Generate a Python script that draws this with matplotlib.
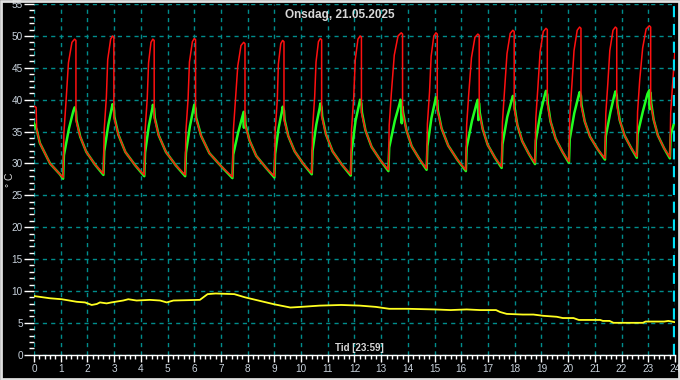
import matplotlib
matplotlib.use("Agg")
import matplotlib.pyplot as plt
from matplotlib.ticker import MultipleLocator
from matplotlib.patches import Rectangle

plt.rcParams['font.family'] = ['Liberation Sans', 'DejaVu Sans']

# --- data (hours, deg C) ---
red_t = [0.00, 0.08, 0.10, 0.22, 0.60, 0.97,
         1.09, 1.12, 1.20, 1.29, 1.42, 1.52, 1.57, 1.57, 1.73, 1.96, 2.29,
         2.60, 2.63, 2.71, 2.76, 2.87, 2.94, 2.99, 2.99, 3.16, 3.42, 3.79,
         4.13, 4.16, 4.24, 4.29, 4.38, 4.45, 4.50, 4.50, 4.67, 4.94, 5.31,
         5.66, 5.69, 5.77, 5.82, 5.93, 6.00, 6.05, 6.05, 6.26, 6.57, 7.02,
         7.43, 7.46, 7.54, 7.63, 7.75, 7.85, 7.90, 7.90, 8.07, 8.32, 8.67,
         9.00, 9.03, 9.11, 9.15, 9.24, 9.31, 9.36, 9.36, 9.52, 9.76, 10.09,
         10.40, 10.43, 10.51, 10.56, 10.65, 10.72, 10.77, 10.77, 10.93, 11.18, 11.53,
         11.86, 11.89, 11.97, 12.03, 12.13, 12.21, 12.26, 12.26, 12.41, 12.64, 12.97,
         13.27, 13.30, 13.38, 13.49, 13.63, 13.75, 13.80, 13.80, 13.94, 14.14, 14.43,
         14.70, 14.73, 14.81, 14.87, 14.97, 15.05, 15.10, 15.10, 15.26, 15.51, 15.85,
         16.17, 16.20, 16.28, 16.38, 16.51, 16.62, 16.67, 16.67, 16.80, 16.99, 17.26,
         17.51, 17.54, 17.62, 17.71, 17.83, 17.93, 17.98, 17.98, 18.10, 18.28, 18.53,
         18.76, 18.79, 18.87, 18.95, 19.07, 19.17, 19.22, 19.22, 19.34, 19.53, 19.79,
         20.03, 20.06, 20.14, 20.22, 20.34, 20.43, 20.48, 20.48, 20.62, 20.82, 21.11,
         21.38, 21.41, 21.49, 21.56, 21.68, 21.77, 21.82, 21.82, 21.93, 22.11, 22.35,
         22.57, 22.60, 22.68, 22.79, 22.92, 23.04, 23.09, 23.09, 23.20, 23.36, 23.59,
         23.81, 23.84, 23.92, 24.00]
red_v = [39.0, 38.8, 35.3, 33.2, 30.0, 28.3,
         27.8, 34.8, 39.8, 45.8, 49.0, 49.5, 49.3, 36.8, 34.2, 31.8, 29.8,
         28.4, 35.4, 40.4, 46.3, 49.5, 50.0, 49.8, 37.3, 34.5, 31.8, 29.7,
         28.2, 35.2, 40.2, 45.8, 49.0, 49.5, 49.3, 37.2, 34.4, 31.8, 29.7,
         28.2, 35.2, 40.2, 45.9, 49.1, 49.6, 49.4, 37.2, 34.3, 31.6, 29.5,
         27.9, 34.9, 39.9, 45.3, 48.5, 49.0, 48.8, 36.1, 33.6, 31.2, 29.4,
         28.0, 35.0, 40.0, 45.6, 48.8, 49.3, 49.1, 36.9, 34.3, 31.9, 29.9,
         28.5, 35.5, 40.5, 45.9, 49.1, 49.6, 49.4, 37.4, 34.6, 31.9, 29.8,
         28.3, 35.3, 40.3, 46.3, 49.5, 50.0, 49.8, 38.0, 35.2, 32.6, 30.5,
         29.0, 36.0, 41.0, 47.0, 50.0, 50.5, 50.3, 38.0, 35.3, 32.7, 30.7,
         29.2, 36.2, 41.2, 46.8, 50.0, 50.5, 50.3, 38.4, 35.5, 32.8, 30.6,
         29.0, 36.0, 41.0, 46.6, 49.8, 50.3, 50.1, 38.0, 35.4, 32.9, 30.9,
         29.5, 36.5, 41.5, 47.2, 50.4, 50.9, 50.7, 38.6, 36.0, 33.5, 31.5,
         30.1, 37.1, 42.1, 47.5, 50.7, 51.2, 51.0, 39.4, 36.6, 33.9, 31.8,
         30.3, 37.3, 42.3, 47.7, 50.9, 51.4, 51.2, 39.2, 36.6, 34.2, 32.2,
         30.8, 37.8, 42.8, 47.7, 50.9, 51.4, 51.2, 39.3, 36.8, 34.4, 32.5,
         31.1, 38.1, 43.1, 48.1, 51.1, 51.6, 51.4, 39.5, 36.9, 34.4, 32.4,
         31.0, 38.0, 43.0, 47.8]

green_t = [0.00, 0.10, 0.22, 0.60, 0.97,
           1.09, 1.12, 1.31, 1.47, 1.52, 1.57, 1.59, 1.73, 1.96, 2.29,
           2.60, 2.63, 2.78, 2.91, 2.94, 2.99, 3.01, 3.16, 3.42, 3.79,
           4.13, 4.16, 4.30, 4.43, 4.45, 4.50, 4.52, 4.67, 4.94, 5.31,
           5.66, 5.69, 5.84, 5.97, 6.00, 6.05, 6.07, 6.26, 6.57, 7.02,
           7.43, 7.46, 7.64, 7.81, 7.85, 7.86, 7.87, 7.90, 7.92, 8.07, 8.32, 8.67,
           9.00, 9.03, 9.16, 9.29, 9.31, 9.36, 9.38, 9.52, 9.76, 10.09,
           10.40, 10.43, 10.57, 10.70, 10.72, 10.77, 10.79, 10.93, 11.18, 11.53,
           11.86, 11.89, 12.04, 12.18, 12.21, 12.26, 12.28, 12.41, 12.64, 12.97,
           13.27, 13.30, 13.51, 13.69, 13.72, 13.76, 13.77, 13.78, 13.80, 13.82, 13.94, 14.14, 14.43,
           14.70, 14.73, 14.88, 15.02, 15.05, 15.10, 15.12, 15.26, 15.51, 15.85,
           16.17, 16.20, 16.40, 16.57, 16.62, 16.64, 16.65, 16.67, 16.69, 16.80, 16.99, 17.26,
           17.51, 17.54, 17.72, 17.89, 17.93, 17.98, 18.00, 18.10, 18.28, 18.53,
           18.76, 18.79, 18.97, 19.13, 19.17, 19.22, 19.24, 19.34, 19.53, 19.79,
           20.03, 20.06, 20.23, 20.39, 20.43, 20.48, 20.50, 20.62, 20.82, 21.11,
           21.38, 21.41, 21.58, 21.73, 21.77, 21.82, 21.84, 21.93, 22.11, 22.35,
           22.57, 22.60, 22.80, 22.97, 23.04, 23.06, 23.07, 23.09, 23.11, 23.20, 23.36, 23.59,
           23.81, 23.84, 24.00]
green_v = [36.3, 35.3, 33.2, 30.0, 28.3,
           27.6, 31.3, 35.5, 38.2, 38.8, 38.2, 36.8, 34.2, 31.8, 29.8,
           28.2, 31.9, 36.0, 38.7, 39.3, 38.7, 37.3, 34.5, 31.8, 29.7,
           28.0, 31.7, 35.9, 38.6, 39.2, 38.6, 37.2, 34.4, 31.8, 29.7,
           28.0, 31.7, 35.9, 38.6, 39.2, 38.6, 37.2, 34.3, 31.6, 29.5,
           27.7, 31.4, 34.8, 37.5, 38.1, 35.6, 38.0, 37.5, 36.1, 33.6, 31.2, 29.4,
           27.8, 31.5, 35.6, 38.3, 38.9, 38.3, 36.9, 34.3, 31.9, 29.9,
           28.3, 32.0, 36.1, 38.8, 39.4, 38.8, 37.4, 34.6, 31.9, 29.8,
           28.1, 31.8, 36.7, 39.4, 40.0, 39.4, 38.0, 35.2, 32.6, 30.5,
           28.8, 32.5, 36.7, 39.4, 40.0, 39.5, 36.3, 39.0, 38.8, 38.0, 35.3, 32.7, 30.7,
           29.0, 32.7, 37.1, 39.8, 40.4, 39.8, 38.4, 35.5, 32.8, 30.6,
           28.8, 32.5, 36.7, 39.4, 40.0, 36.8, 39.6, 39.4, 38.0, 35.4, 32.9, 30.9,
           29.3, 33.0, 37.3, 40.0, 40.6, 40.0, 38.6, 36.0, 33.5, 31.5,
           29.9, 33.6, 38.1, 40.8, 41.4, 40.8, 39.4, 36.6, 33.9, 31.8,
           30.1, 33.8, 37.9, 40.6, 41.2, 40.6, 39.2, 36.6, 34.2, 32.2,
           30.6, 34.3, 38.0, 40.7, 41.3, 40.7, 39.3, 36.8, 34.4, 32.5,
           30.9, 34.6, 38.2, 40.9, 41.5, 38.5, 41.2, 40.9, 39.5, 36.9, 34.4, 32.4,
           30.8, 34.5, 36.8]

yellow_t = [0.00, 0.60, 1.04, 1.60, 1.91, 2.16, 2.35, 2.47, 2.72, 2.90, 3.34, 3.53,
            3.84, 4.34, 4.72, 4.97, 5.22, 6.21, 6.50, 6.80, 7.50, 7.90, 8.50, 9.00,
            9.60, 10.00, 10.70, 11.50, 12.20, 12.80, 13.30, 14.00, 15.00, 15.60, 16.20,
            16.70, 17.30, 17.45, 17.70, 18.30, 18.70, 19.07, 19.57, 19.80, 20.20, 20.40,
            21.20, 21.30, 21.55, 21.70, 22.80, 22.90, 23.60, 23.75, 24.00]
yellow_v = [9.2, 8.85, 8.7, 8.3, 8.2, 7.8, 7.95, 8.2, 8.05, 8.2, 8.5, 8.7,
            8.5, 8.6, 8.5, 8.2, 8.5, 8.6, 9.5, 9.6, 9.5, 9.0, 8.4, 7.9,
            7.4, 7.5, 7.7, 7.8, 7.7, 7.5, 7.2, 7.2, 7.1, 7.0, 7.1,
            7.0, 7.0, 6.7, 6.4, 6.3, 6.3, 6.1, 5.95, 5.75, 5.75, 5.45,
            5.45, 5.3, 5.3, 5.0, 5.0, 5.2, 5.2, 5.3, 5.1]

title = "Onsdag, 21.05.2025"
xlabel = "Tid [23:59]"
ylabel = "° C"
hours = list(range(0, 25))
yvals = list(range(0, 60, 5))

# --- figure ---
fig = plt.figure(figsize=(6.8, 3.8), dpi=100, facecolor='black')
ax = fig.add_axes([0.05, 0.0666, 0.9426, 0.9226])
ax.set_facecolor('black')

grid_col = '#008c8c'
ax.grid(True, which='major', color=grid_col, ls=(0, (3, 3)), lw=1)
ax.set_axisbelow(True)

ax.plot(yellow_t, yellow_v, color='#ffff20', lw=1.3)
# green first (a bit wider) so that red sits on top and green shows at its edge
ax.plot(green_t, green_v, color='#20ff20', lw=1.8)
ax.plot(red_t, red_v, color='#ff1010', lw=1.1)

# current time marker
ax.axvline(23.98, color='#00e0f8', ls=(0, (5, 3)), lw=1.6)

ax.set_xlim(0, 24)
ax.set_ylim(0, 55)
ax.set_xticks(hours)
ax.set_yticks(yvals)
ax.xaxis.set_minor_locator(MultipleLocator(0.2))
ax.yaxis.set_minor_locator(MultipleLocator(1))

lab_col = '#c8d2dc'
ax.tick_params(which='major', colors='white', labelcolor=lab_col, labelsize=7.2)
ax.tick_params(axis='y', which='major', length=7, width=1, pad=1)
ax.tick_params(axis='y', which='minor', length=3.5, width=1, colors='white')
ax.tick_params(axis='x', which='major', length=5, width=1, pad=2)
ax.tick_params(axis='x', which='minor', length=3, width=1, colors='white')

for s in ['top', 'right', 'left']:
    ax.spines[s].set_visible(False)
ax.spines['bottom'].set_color('white')
ax.spines['bottom'].set_linewidth(1)

ax.text(0.477, 0.97, title, transform=ax.transAxes, ha='center', va='center',
        color='#d8d8d8', fontsize=8.5, fontweight='bold')
ax.text(0.508, 0.019, xlabel, transform=ax.transAxes, ha='center', va='center',
        color='#d8d8d8', fontsize=7, fontweight='bold')
fig.text(0.015, 0.526, ylabel, rotation=90, ha='center', va='center',
         color='#d8d8d8', fontsize=7.5)

# light frame round the picture
fig.patches.append(Rectangle((0.002, 0.003), 0.996, 0.994, transform=fig.transFigure,
                             fill=False, edgecolor='#e0e0e0', lw=2))

fig.savefig("out.png", dpi=100, facecolor='black')
